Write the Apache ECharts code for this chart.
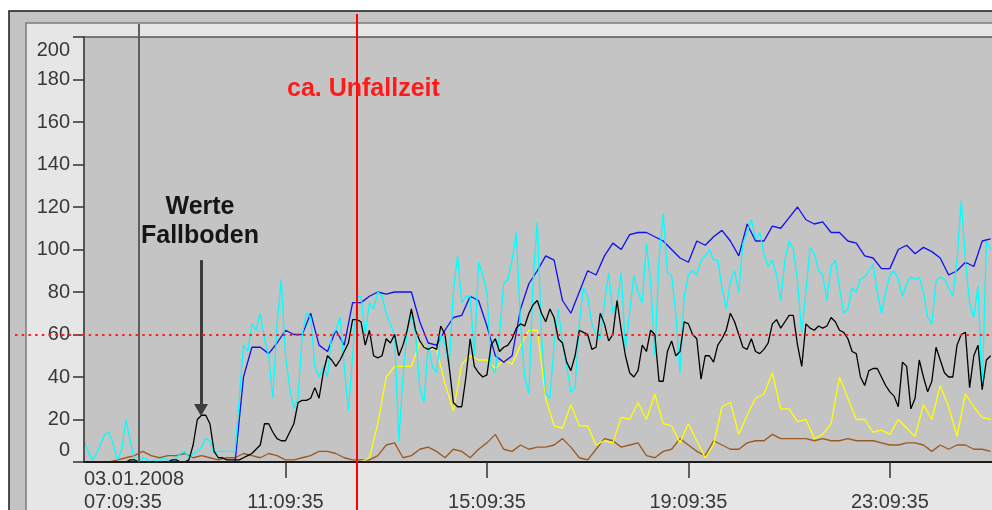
<!DOCTYPE html>
<html>
<head>
<meta charset="utf-8">
<script src="https://cdn.jsdelivr.net/npm/echarts@6/dist/echarts.min.js"></script>
<style>
  html, body { margin: 0; padding: 0; background: #ffffff; }
  #chart { width: 992px; height: 510px; }
</style>
</head>
<body>
<div id="chart"></div>
<script>
// Minutes after 03.01.2008 07:09:35 at which the signals were sampled
const minutesFine = Array.from({ length: 217 }, (_, i) => i * 5);    // 5-minute samples
const minutesCoarse = Array.from({ length: 109 }, (_, i) => i * 10); // 10-minute samples

// x-axis tick labels, one per 4 hours
const tickMinutes = [0, 240, 480, 720, 960];
const tickLabels = ['03.01.2008\n07:09:35', '\n11:09:35', '\n15:09:35', '\n19:09:35', '\n23:09:35'];

// Event markers (minutes after start) and threshold value
const accidentMinute = 325;     // ca. Unfallzeit
const markerMinute = 65.5;      // grey marker line
const fallbodenMinute = 139.4;  // arrow "Werte Fallboden"
const thresholdValue = 60;

// Cyan signal (5-minute samples)
const cyanValues = [
  10, 5, 1, 4, 9, 13, 14, 8, 1, 6, 20, 10, 1,
  0, 2, 1, 0, 1, 0, 2, 1, 0, 2, 4, 5, 2, 4, 5, 7, 11, 10, 4, 5, 5, 5, 5, 5,
  30, 55, 52, 65, 62, 70, 58, 50, 30, 65, 86, 50, 35, 25, 30, 60, 70, 68, 45, 40, 45, 40, 60, 62, 68, 45, 24, 50, 78, 78, 60, 75, 72, 80, 78, 70,
  65, 60, 10, 40, 62, 70, 60, 35, 28, 55, 45, 42, 60, 55, 45, 80, 97, 75, 78, 78, 50, 94, 88, 80, 45, 42, 60, 84, 86, 95, 108, 65, 40, 32, 85, 113,
  60, 32, 30, 55, 72, 56, 45, 33, 35, 65, 82, 78, 65, 60, 58, 75, 89, 70, 75, 89,
  53, 70, 88, 80, 75, 103, 85, 50, 95, 117, 89, 88, 70, 42, 78, 88, 90, 88, 95, 97,
  100, 95, 95, 82, 72, 85, 90, 80, 103, 108, 114, 105, 108, 98, 92, 95, 88, 76, 95, 104,
  100, 85, 61, 80, 101, 98, 90, 88, 76, 92, 95, 82, 70, 72, 82, 80, 86, 87, 90, 93,
  80, 70, 80, 88, 90, 86, 78, 84, 87, 86, 87, 80, 68, 65, 85, 87, 86, 82, 78, 95,
  123, 95, 75, 68, 83, 34, 104, 100
];

// Black signal (5-minute samples)
const blackValues = [
  0, 0, 0, 0, 0, 0, 0, 0, 0, 0, 0, 1, 1, 0, 0, 0, 0, 0, 0, 0, 0, 1, 1, 0, 0, 1,
  8, 20, 22, 22, 18, 5, 2, 2, 1, 1, 1, 1, 2, 3, 4, 6, 8, 18, 18, 14, 11, 10, 10, 14, 18, 28, 29, 29, 30, 35, 30,
  42, 50, 48, 45, 48, 52, 56, 67, 67, 66, 55, 62, 50, 49, 50, 58, 56, 60, 50, 55,
  62, 72, 62, 57, 54, 53, 54, 53, 64, 60, 45, 28, 26, 26, 40, 58, 45, 42, 40, 41,
  55, 58, 52, 54, 55, 58, 63, 65, 64, 70, 74, 76,
  70, 66, 72, 68, 58, 56, 47, 43, 50, 62,
  61, 60, 53, 54, 70, 65, 57, 60, 76, 62,
  50, 42, 40, 43, 55, 52, 62, 60, 38, 38,
  52, 57, 50, 52, 66, 65, 60, 58, 39, 50,
  50, 47, 55, 58, 62, 70, 66, 60, 54, 53,
  58, 52, 51, 53, 56, 65, 67, 63, 66, 69,
  69, 55, 45, 65, 63, 62, 64, 63, 64, 68,
  66, 62, 61, 58, 52, 51, 40, 36, 43, 44,
  44, 40, 36, 33, 31, 26, 47, 45, 25, 30,
  48, 40, 33, 38, 54, 48, 42, 40, 40, 55,
  60, 61, 35, 50, 55, 34, 48, 50
];

// Blue signal (10-minute samples)
const blueValues = [
  0, 0, 0, 0, 0, 0, 0, 0, 0, 0, 0, 0, 0, 0, 0, 0, 0, 0, 0, 40,
  54, 54, 51, 56, 62, 60, 60, 70, 55, 52,
  62, 55, 75, 75, 78, 80, 79, 80, 80, 80,
  66, 56, 55, 62, 68, 69, 78, 76, 64, 50,
  47, 50, 72, 84, 90, 97, 95, 76, 70, 80,
  90, 88, 97, 103, 100, 107, 108, 108, 106, 104,
  100, 96, 94, 104, 102, 106, 109, 104, 97, 112,
  104, 104, 111, 110, 115, 120, 114, 112, 113, 108,
  108, 104, 103, 97, 96, 91, 91, 100, 102, 98,
  101, 99, 96, 88, 90, 94, 92, 104, 105
];

// Yellow signal (10-minute samples), starts after the accident
const yellowValues = [
  null, null, null, null, null, null, null, null, null, null,
  null, null, null, null, null, null, null, null, null, null,
  null, null, null, null, null, null, null, null, null, null,
  null, null, null, 0,
  2, 18, 40, 45, 45, 45, 56, 53, 53, 37,
  24, 46, 50, 48, 48, 44, 48, 46, 55, 62,
  62, 30, 17, 16, 27, 17, 17, 8, 10, 9,
  21, 20, 28, 20, 32, 18, 17, 9, 18, 10,
  2, 8, 26, 28, 13, 22, 30, 32, 42, 25,
  25, 19, 20, 11, 13, 18, 40, 30, 20, 20,
  14, 15, 13, 20, 16, 12, 27, 20, 36, 26,
  12, 32, 26, 21, 20
];

// Brown signal (10-minute samples)
const brownValues = [
  0, 0, 0, 0, 1, 2, 3, 5, 3, 2,
  3, 3, 4, 2, 3, 2, 1, 2, 2, 4,
  3, 2, 4, 3, 1, 1, 2, 3, 5, 5,
  4, 2, 1, 1, 1, 3, 8, 9, 2, 3,
  6, 7, 5, 2, 6, 5, 2, 6, 9, 13,
  6, 5, 8, 6, 7, 7, 8, 11, 7, 2,
  1, 6, 11, 10, 7, 8, 9, 3, 2, 5,
  6, 11, 8, 5, 3, 10, 8, 6, 6, 9,
  10, 10, 13, 11, 11, 11, 11, 10, 11, 10,
  10, 11, 10, 10, 10, 9, 8, 8, 9, 9,
  8, 5, 8, 6, 8, 8, 6, 6, 5
];

const X_MAX = 1090;
const FONT = '"Liberation Sans", Arial, "DejaVu Sans", sans-serif';
const pairs = (times, values) => times.map((t, i) => [t, values[i]]);

const plotLeft = 84, plotTop = 37, plotHeight = 425, plotWidth = 915;

function signal(name, color, times, values, z) {
  return {
    name, type: 'line', xAxisIndex: 0, yAxisIndex: 0,
    data: pairs(times, values),
    showSymbol: false, symbol: 'none', connectNulls: false,
    lineStyle: { color, width: 1.3 }, z,
    animation: false
  };
}

const chart = echarts.init(document.getElementById('chart'), null, { renderer: 'canvas' });

const option = {
  animation: false,
  backgroundColor: '#ffffff',
  textStyle: { fontFamily: FONT },
  graphic: [
    { type: 'rect', z: -10, shape: { x: 9, y: 11, width: 1000, height: 520 },
      style: { fill: '#c4c4c4', stroke: '#1a1a1a', lineWidth: 1.5 } },
    { type: 'rect', z: -9, shape: { x: 26, y: 23, width: 1000, height: 520 },
      style: { fill: '#e6e6e6', stroke: '#7c7c7c', lineWidth: 1.5 } },
    { type: 'text', z: 100, x: 287, y: 89,
      style: { text: 'ca. Unfallzeit', fill: '#ff1a1a', font: 'bold 25px ' + FONT, verticalAlign: 'middle', align: 'left' } },
    { type: 'text', z: 100, x: 200, y: 222,
      style: { text: 'Werte\nFallboden', fill: '#151515', font: 'bold 25px ' + FONT, lineHeight: 29, verticalAlign: 'middle', align: 'center' } }
  ],
  grid: [
    { left: plotLeft, top: plotTop, width: plotWidth, height: plotHeight, show: true, outerBoundsMode: 'none',
      backgroundColor: '#c4c4c4', borderColor: '#555555', borderWidth: 1.5 },
    { left: plotLeft, top: 24, width: plotWidth, height: 438, outerBoundsMode: 'none' },
    { left: plotLeft, top: 14, width: plotWidth, height: 510, outerBoundsMode: 'none' },
    { left: 15, top: plotTop, width: 1000, height: plotHeight, outerBoundsMode: 'none' }
  ],
  xAxis: [
    {
      type: 'value', gridIndex: 0, min: 0, max: X_MAX, z: 3,
      axisLine: { show: true, lineStyle: { color: '#1a1a1a', width: 2 } },
      axisTick: { show: true, customValues: tickMinutes.slice(1), length: 16, lineStyle: { color: '#333333', width: 1.5 } },
      axisLabel: {
        customValues: tickMinutes,
        formatter: v => tickLabels[tickMinutes.indexOf(v)] || '',
        fontSize: 20, color: '#383838', lineHeight: 23, margin: 6,
        alignMinLabel: 'left', fontFamily: FONT
      },
      splitLine: { show: false }
    },
    { type: 'value', gridIndex: 1, min: 0, max: X_MAX, show: false },
    { type: 'value', gridIndex: 2, min: 0, max: X_MAX, show: false },
    { type: 'value', gridIndex: 3, min: 0, max: X_MAX, show: false }
  ],
  yAxis: [
    {
      type: 'value', gridIndex: 0, min: 0, max: 200, interval: 20, z: 3,
      axisLine: { show: true, lineStyle: { color: '#555555', width: 2 } },
      axisTick: { show: true, length: 11, lineStyle: { color: '#333333', width: 1.5 } },
      axisLabel: {
        fontSize: 20, color: '#383838', margin: 14, fontFamily: FONT,
        formatter: v => v === 200 ? '{top|200}' : (v === 0 ? '{bot|0}' : String(v)),
        rich: {
          top: { padding: [26, 0, 0, 0], fontSize: 20, color: '#383838', fontFamily: FONT },
          bot: { padding: [0, 0, 24, 0], fontSize: 20, color: '#383838', fontFamily: FONT }
        }
      },
      splitLine: { show: false }
    },
    { type: 'value', gridIndex: 1, min: 0, max: 1, show: false },
    { type: 'value', gridIndex: 2, min: 0, max: 1, show: false },
    { type: 'value', gridIndex: 3, min: 0, max: 200, show: false }
  ],
  series: [
    // grey marker line
    { type: 'line', xAxisIndex: 1, yAxisIndex: 1, data: [], z: 1,
      markLine: { silent: true, symbol: 'none', animation: false, label: { show: false },
        lineStyle: { color: '#5e5e5e', width: 2, type: 'solid' },
        data: [{ xAxis: markerMinute }] } },
    signal('braun', '#9c5a22', minutesCoarse, brownValues, 2),
    signal('gelb', '#ffff00', minutesCoarse, yellowValues, 2),
    signal('blau', '#1010f0', minutesCoarse, blueValues, 2),
    signal('cyan', '#00ffff', minutesFine, cyanValues, 2),
    Object.assign(signal('schwarz', '#000000', minutesFine, blackValues, 2), {
      markLine: {
        silent: true, animation: false, label: { show: false },
        symbol: ['none', 'triangle'], symbolSize: [14, 12],
        lineStyle: { color: '#3c3c3c', width: 3, type: 'solid' },
        data: [[{ coord: [fallbodenMinute, 95] }, { coord: [fallbodenMinute, 24.5] }]]
      }
    }),
    // threshold
    { type: 'line', xAxisIndex: 3, yAxisIndex: 3, data: [], z: 4,
      markLine: { silent: true, symbol: 'none', animation: false, label: { show: false },
        lineStyle: { color: '#ff2020', width: 2, type: [2.5, 4.2] },
        data: [{ yAxis: thresholdValue }] } },
    // accident time
    { type: 'line', xAxisIndex: 2, yAxisIndex: 2, data: [], z: 5,
      markLine: { silent: true, symbol: 'none', animation: false, label: { show: false },
        lineStyle: { color: '#ff0000', width: 2, type: 'solid' },
        data: [{ xAxis: accidentMinute }] } }
  ]
};

chart.setOption(option);
</script>
</body>
</html>
